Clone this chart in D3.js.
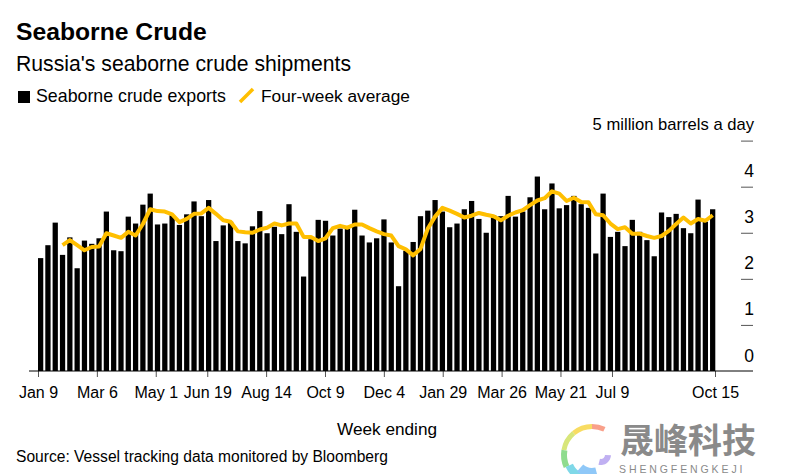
<!DOCTYPE html>
<html>
<head>
<meta charset="utf-8">
<script src="https://cdn.jsdelivr.net/npm/d3@7"></script>
<style>
	html, body { margin: 0; padding: 0; background: #fff; }
	text { font-family: "Liberation Sans", Arial, sans-serif; fill: #000; }
</style>
</head>
<body>
<div id="chart"></div>
<script>
const exports_ = [
	2.45, 2.73, 3.22, 2.52, 2.90, 2.23, 2.83, 2.76, 2.88, 3.46,
	2.62, 2.60, 3.35, 3.20, 3.61, 3.85, 3.18, 3.20, 3.38, 3.17,
	3.40, 3.68, 3.36, 3.71, 2.82, 3.16, 3.24, 2.82, 2.77, 3.14,
	3.47, 2.99, 3.13, 2.97, 3.62, 3.02, 2.05, 2.86, 3.28, 3.26,
	2.94, 3.09, 3.09, 3.50, 2.94, 2.79, 2.88, 3.29, 2.79, 1.84,
	2.61, 2.80, 3.36, 3.48, 3.71, 3.46, 3.12, 3.20, 3.51, 3.69,
	3.30, 3.00, 3.38, 3.36, 3.80, 3.35, 3.46, 3.77, 4.22, 3.51,
	4.07, 3.53, 3.60, 3.80, 3.62, 3.54, 2.55, 3.85, 2.91, 3.02,
	2.71, 3.28, 3.02, 2.84, 2.49, 3.44, 3.34, 3.41, 3.10, 2.99,
	3.72, 3.24, 3.51
]
const average = [
	null, null, null, 2.73, 2.84, 2.73, 2.62, 2.69, 2.70, 2.99,
	2.94, 2.89, 3.02, 2.94, 3.19, 3.51, 3.47, 3.46, 3.40, 3.23,
	3.30, 3.41, 3.42, 3.54, 3.41, 3.27, 3.24, 3.03, 3.01, 3.00,
	3.07, 3.11, 3.20, 3.16, 3.20, 3.20, 2.91, 2.91, 2.82, 2.88,
	3.10, 3.15, 3.11, 3.18, 3.18, 3.10, 3.03, 2.97, 2.94, 2.71,
	2.64, 2.51, 2.65, 3.09, 3.35, 3.54, 3.48, 3.41, 3.33, 3.37,
	3.43, 3.39, 3.36, 3.27, 3.37, 3.44, 3.49, 3.60, 3.70, 3.75,
	3.90, 3.85, 3.69, 3.76, 3.67, 3.66, 3.40, 3.38, 3.20, 3.08,
	3.12, 2.98, 2.98, 2.93, 2.89, 2.93, 3.04, 3.19, 3.33, 3.20,
	3.30, 3.26, 3.38
]
const tickWeeks = [0, 8, 16, 23, 31, 39, 47, 55, 63, 71, 78, 92]
const tickLabels = ['Jan 9', 'Mar 6', 'May 1', 'Jun 19', 'Aug 14', 'Oct 9', 'Dec 4', 'Jan 29', 'Mar 26', 'May 21', 'Jul 9', 'Oct 15']
const yTicks = [0, 1, 2, 3, 4, 5]

const w = 810
const h = 474
const orange = '#ffbf00'

const svg = d3.select('#chart').append('svg').attr('width', w).attr('height', h).style('display', 'block')

// tick positions run edge to edge, bars sit inside them
const xTick = d3.scaleLinear().domain([0, 92]).range([38, 715])
const x = d3.scaleBand().domain(d3.range(exports_.length)).range([38, 715.3]).paddingInner(0.28).paddingOuter(0)
const y = d3.scaleLinear().domain([0, 5]).range([371, 140.6])

svg
	.selectAll('rect.bar')
	.data(exports_)
	.join('rect')
	.attr('class', 'bar')
	.attr('x', (d, i) => x(i))
	.attr('y', (d) => y(d))
	.attr('width', x.bandwidth())
	.attr('height', (d) => y(0) - y(d))
	.attr('fill', '#000')

const line = d3
	.line()
	.defined((d) => d !== null)
	.x((d, i) => x(i) + x.bandwidth() / 2)
	.y((d) => y(d))

svg.append('path').attr('d', line(average)).attr('fill', 'none').attr('stroke', orange).attr('stroke-width', 4).attr('stroke-linejoin', 'round')

// y axis
const yAxis = svg
	.append('g')
	.attr('transform', 'translate(753,0)')
	.call(d3.axisLeft(y).tickValues(yTicks).tickSize(12).tickFormat((d) => (d === 5 ? '5 million barrels a day' : d)))
yAxis.select('.domain').remove()
yAxis.selectAll('line').attr('stroke', (d) => (d === 0 ? 'none' : '#555'))
yAxis
	.selectAll('text')
	.attr('x', 1)
	.attr('dy', (d) => (d === 5 ? -11.5 : -10))
	.attr('text-anchor', 'end')
	.style('font-size', (d) => (d === 5 ? '16.6px' : '17.5px'))

// x axis
const xAxis = svg
	.append('g')
	.attr('transform', 'translate(0,371)')
	.call(d3.axisBottom(xTick).tickValues(tickWeeks).tickSize(6).tickPadding(10).tickFormat((d, i) => tickLabels[i]))
xAxis.select('.domain').remove()
xAxis.selectAll('line').attr('stroke', '#555')
xAxis.selectAll('text').style('font-size', '16px')
svg.append('line').attr('x1', 29).attr('x2', 753).attr('y1', 371).attr('y2', 371).attr('stroke', '#000')

// titles
svg.append('text').attr('x', 16).attr('y', 40).text('Seaborne Crude').style('font-size', '24.7px').style('font-weight', 'bold')
svg.append('text').attr('x', 16).attr('y', 71).text("Russia's seaborne crude shipments").style('font-size', '21.2px')

// legend
svg.append('rect').attr('x', 18).attr('y', 91).attr('width', 12).attr('height', 12).attr('fill', '#000')
svg.append('text').attr('x', 36).attr('y', 102).text('Seaborne crude exports').style('font-size', '17.8px')
svg.append('line').attr('x1', 240).attr('y1', 102).attr('x2', 253).attr('y2', 89).attr('stroke', orange).attr('stroke-width', 3.5)
svg.append('text').attr('x', 261).attr('y', 102).text('Four-week average').style('font-size', '17.3px')

svg.append('text').attr('x', 387).attr('y', 435).attr('text-anchor', 'middle').text('Week ending').style('font-size', '17.2px')
svg.append('text').attr('x', 16).attr('y', 462).text('Source: Vessel tracking data monitored by Bloomberg').style('font-size', '15.6px')

// watermark
const logoArcs = [
	{ r: 31, w: 5, a0: 0.0, a1: 0.45, c: '#f9a08a' },
	{ r: 31, w: 5, a0: -0.7, a1: 0.0, c: '#f8dc62' },
	{ r: 31, w: 5, a0: -1.4, a1: -0.7, c: '#d8e67a' },
	{ r: 31, w: 6, a0: -2.0, a1: -1.4, c: '#8fdc8e' },
	{ r: 29, w: 8, a0: -2.6, a1: -2.0, c: '#7fd8e8' },
	{ r: 22, w: 9, a0: -3.4, a1: -2.4, c: '#8fc8f8' }
]
const arc = d3.arc()
svg
	.selectAll('path.logo')
	.data(logoArcs)
	.join('path')
	.attr('class', 'logo')
	.attr('transform', 'translate(592,455)')
	.attr('d', (d) => arc({ innerRadius: d.r - d.w, outerRadius: d.r, startAngle: d.a0, endAngle: d.a1 }))
	.attr('fill', (d) => d.c)
svg
	.append('path')
	.attr('transform', 'translate(601,455)')
	.attr('d', arc({ innerRadius: 4, outerRadius: 10, startAngle: 1.6, endAngle: 3.4 }))
	.attr('fill', '#c0b0f2')
svg
	.append('text')
	.attr('x', 620)
	.attr('y', 453)
	.text('晟峰科技')
	.style('font-family', '"Noto Sans CJK SC"')
	.style('font-size', '34px')
	.style('font-weight', 'bold')
	.style('fill', '#8a8a8a')
svg.append('text').attr('x', 619).attr('y', 473).text('SHENGFENGKEJI').style('font-size', '10.5px').style('letter-spacing', '2.9px').style('fill', '#8a8a8a')
</script>
</body>
</html>
